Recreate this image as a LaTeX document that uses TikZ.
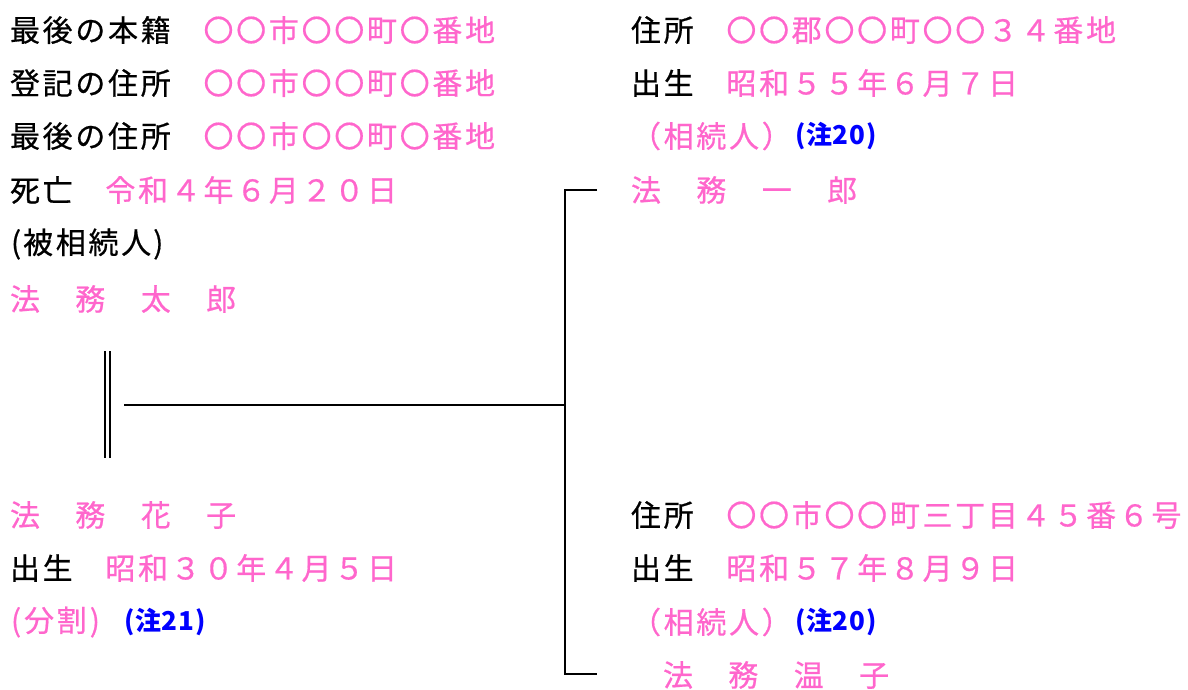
\documentclass[tikz,border=0pt]{standalone}
\usepackage{fontspec}
\newfontfamily\jp[LetterSpace=9,FakeBold=0.6]{Noto Sans CJK JP}
\newfontfamily\jpn[LetterSpace=3]{Noto Sans CJK JP}
\definecolor{pk}{HTML}{FF66CC}
\definecolor{nb}{HTML}{0000FF}
\tikzset{
  txt/.style={anchor=west, inner sep=0pt, outer sep=0pt, font=\fontsize{30}{34}\jp},
  note/.style={anchor=west, inner sep=0pt, outer sep=0pt, text=nb, font=\fontsize{26}{30}\jpn\bfseries},
  ln/.style={line width=2pt, draw=black},
}
\newcommand{\pink}[1]{\textcolor{pk}{#1}}
\begin{document}
\begin{tikzpicture}[x=1pt,y=-1pt]
\useasboundingbox (0,0) rectangle (1188,689);
% left column
\node[txt] (L1) at (10,30) {最後の本籍　\pink{〇〇市〇〇町〇番地}};
\node[txt] (L2) at (10,83) {登記の住所　\pink{〇〇市〇〇町〇番地}};
\node[txt] (L3) at (10,136) {最後の住所　\pink{〇〇市〇〇町〇番地}};
\node[txt] (L4) at (10,190) {死亡　\pink{令和４年６月２０日}};
\node[txt] (L5) at (11,244) {(\hspace{2pt}被相続人\hspace{2pt})};
\node[txt, text=pk] (L6) at (10,299) {法　務　太　郎};
\node[txt, text=pk] (L7) at (10,515) {法　務　花　子};
\node[txt] (L8) at (10,568) {出生　\pink{昭和３０年４月５日}};
\node[txt, text=pk] (L9) at (11,622) {(\hspace{3pt}分割\hspace{3pt})};
\node[note] (N3) at (124,622) {(注21)};
% right column
\node[txt] (R1) at (631,30) {住所　\pink{〇〇郡〇〇町〇〇３４番地}};
\node[txt] (R2) at (631,83) {出生　\pink{昭和５５年６月７日}};
\node[txt, text=pk] (R3) at (631,136) {（相続人）};
\node[note] (N1) at (795,136) {(注20)};
\node[txt, text=pk] (R4) at (631,190) {法　務　一　郎};
\node[txt] (R5) at (631,515) {住所　\pink{〇〇市〇〇町三丁目４５番６号}};
\node[txt] (R6) at (631,568) {出生　\pink{昭和５７年８月９日}};
\node[txt, text=pk] (R7) at (631,622) {（相続人）};
\node[note] (N2) at (795,622) {(注20)};
\node[txt, text=pk] (R8) at (663,675) {法　務　温　子};
% connectors
\coordinate (mA) at (107.5,351);
\coordinate (mB) at (107.5,458);
\coordinate (h0) at (124,405);
\coordinate (hj) at (565,405);
\coordinate (c1) at (565,190);
\coordinate (t1) at (597,190);
\coordinate (c2) at (565,673.5);
\coordinate (t2) at (597,673.5);
\draw[line width=2pt, double, double distance=3pt] (mA) -- (mB);
\draw[ln] (h0) -- (hj);
\draw[ln] (t1) -- (c1) -- (c2) -- (t2);
\end{tikzpicture}
\end{document}
